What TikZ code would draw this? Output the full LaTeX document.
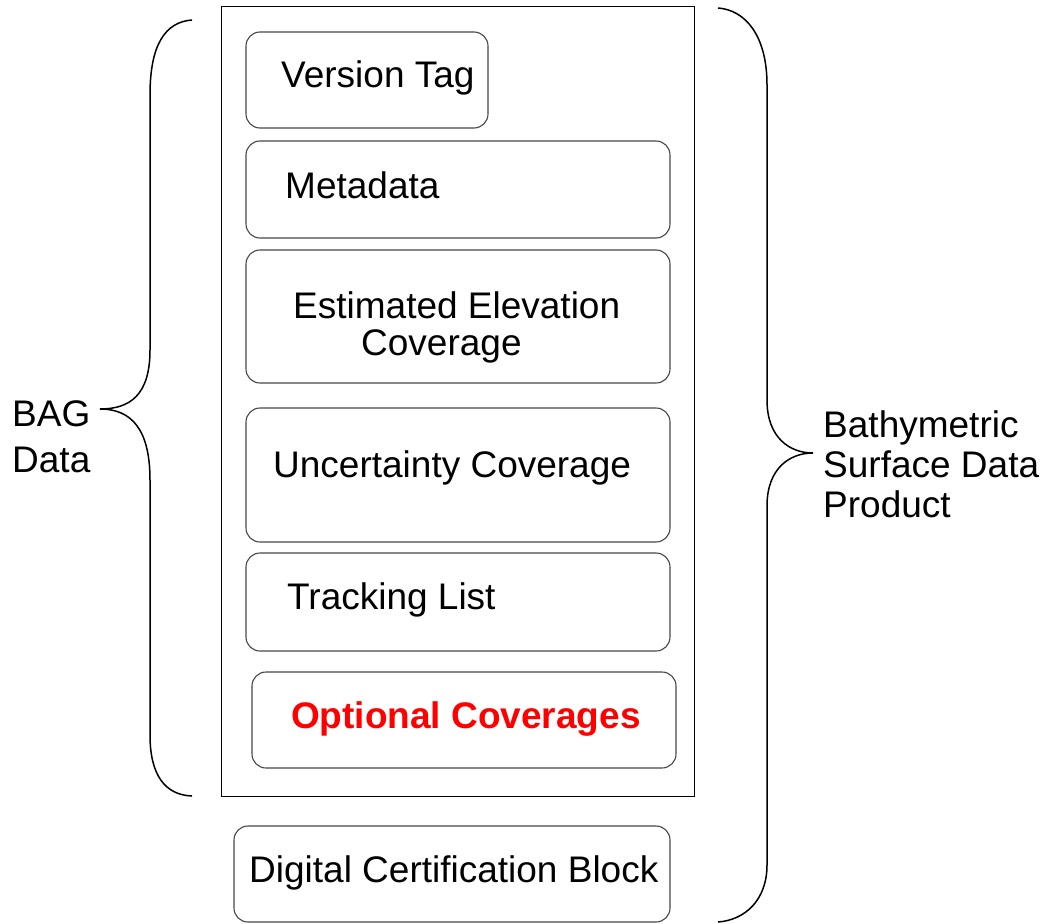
\documentclass[tikz,border=0pt]{standalone}
\usepackage{fontspec}
\setmainfont{Liberation Sans}
\begin{document}
\begin{tikzpicture}[x=1pt,y=-1pt,
  blk/.style={draw=black!72, line width=1.1pt, rounded corners=14pt},
  outerbox/.style={draw=black, line width=1pt},
  brace/.style={draw=black, line width=1.5pt},
  lbl/.style={anchor=base west, inner sep=0pt, font=\fontsize{37}{37}\selectfont, align=left},
  redlbl/.style={lbl, text=red, font=\fontsize{37}{37}\selectfont\bfseries}]
\useasboundingbox (0,0) rectangle (1043,923);
% outer container
\draw[outerbox] (221,7) rectangle (694,796);
% blocks
\draw[blk] (246,32) rectangle (488,128);
\draw[blk] (246,141) rectangle (670,238);
\draw[blk] (246,250) rectangle (670,383);
\draw[blk] (246,408) rectangle (670,542);
\draw[blk] (246,553) rectangle (670,651);
\draw[blk] (252,672) rectangle (676,768);
\draw[blk] (234,826) rectangle (670,922);
% labels (base anchor of a multi-line node is the last line's baseline)
\node[lbl] (vt) at (281,88) {Version Tag};
\node[lbl] (md) at (285,198) {Metadata};
\node[lbl] (ee) at (293,355) {Estimated Elevation\\\hspace*{68pt}Coverage};
\node[lbl] (uc) at (273,477) {Uncertainty Coverage};
\node[lbl] (tl) at (287,609) {Tracking List};
\node[redlbl] (oc) at (291,728) {Optional Coverages};
\node[lbl] (dc) at (249,882) {Digital Certification Block};
% braces
\draw[brace] (192,20) .. controls (165,22) and (150,45) .. (150,95) -- (150,350)
  .. controls (150,395) and (130,409) .. (100,409)
  .. controls (132,409) and (150,430) .. (150,480) -- (150,735)
  .. controls (150,775) and (165,795) .. (192,796);
\draw[brace] (718,8) .. controls (745,10) and (767,35) .. (767,85) -- (767,400)
  .. controls (767,438) and (790,453) .. (813,453)
  .. controls (790,453) and (767,468) .. (767,506) -- (767,865)
  .. controls (767,900) and (745,920) .. (718,922);
\node[lbl, font=\fontsize{37}{46}\selectfont] (bag) at (12,472) {BAG\\Data};
\node[lbl, font=\fontsize{37}{40}\selectfont] (bsdp) at (823,517) {Bathymetric\\Surface Data\\Product};
\end{tikzpicture}
\end{document}
